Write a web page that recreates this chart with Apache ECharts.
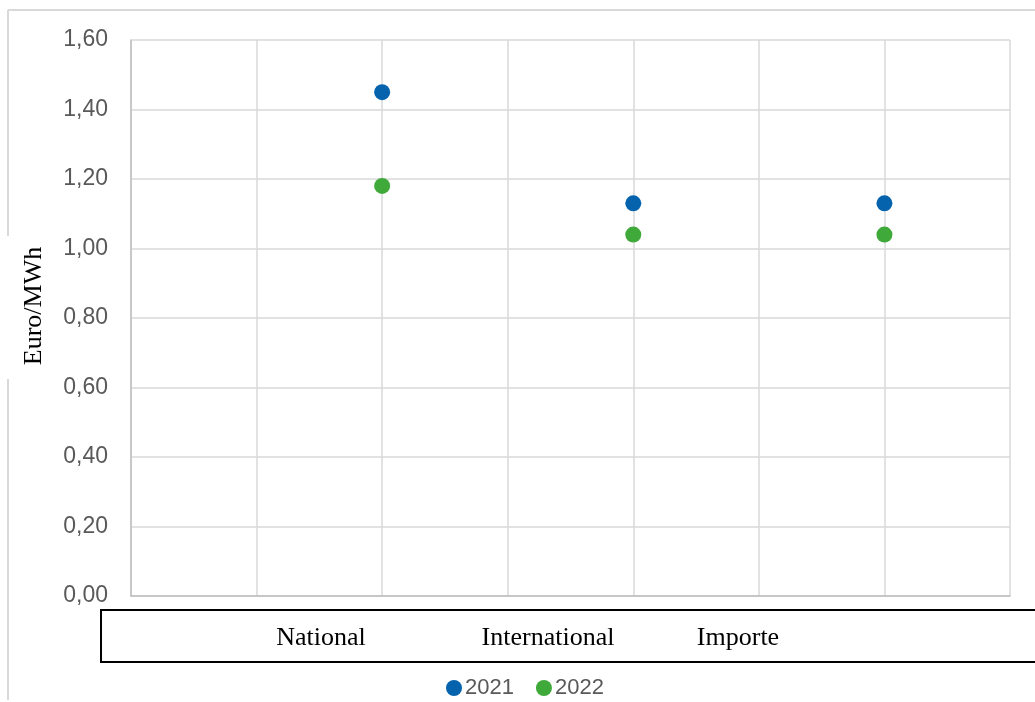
<!DOCTYPE html>
<html><head><meta charset="utf-8">
<script src="https://cdn.jsdelivr.net/npm/echarts@6/dist/echarts.min.js"></script>
<style>html,body{margin:0;padding:0;background:#fff}#c{width:1035px;height:702px}</style>
</head><body><div id="c"></div>
<script>
// slots on the x axis (points sit on slots 2, 4, 6)
const slots = ['', '', 'National', '', 'International', '', 'Importe', ''];
const categories = ['National', 'International', 'Importe'];
const values2021 = [1.45, 1.13, 1.13];
const values2022 = [1.18, 1.04, 1.04];
const boxLabelX = [321, 548, 738];

function toPairs(vals) { return categories.map((c, i) => [c, vals[i]]); }

const chart = echarts.init(document.getElementById('c'));
chart.setOption({
  animation: false,
  grid: { left: 131, right: 25, top: 40, bottom: 106 },
  xAxis: {
    type: 'category', data: slots, boundaryGap: false,
    axisLine: { show: true, lineStyle: { color: '#bfbfbf', width: 1.5 } },
    axisTick: { show: false }, axisLabel: { show: false },
    splitLine: { show: true, lineStyle: { color: '#d9d9d9', width: 1.5 } }
  },
  yAxis: {
    type: 'value', min: 0, max: 1.6, interval: 0.2,
    axisLine: { show: true, lineStyle: { color: '#bfbfbf', width: 1.5 } },
    axisTick: { show: false },
    axisLabel: { fontFamily: 'Liberation Sans', fontSize: 23, color: '#595959', margin: 23,
      padding: [4, 0, 0, 0],
      formatter: v => v.toFixed(2).replace('.', ',') },
    splitLine: { lineStyle: { color: '#d9d9d9', width: 1.5 } }
  },
  legend: {
    left: 441, top: 672, itemGap: 22, itemWidth: 16, itemHeight: 16,
    icon: 'circle',
    textStyle: { fontFamily: 'Liberation Sans', fontSize: 22, color: '#595959', padding: [0, 0, 0, -2] },
    data: ['2021', '2022']
  },
  graphic: [
    { type: 'line', shape: { x1: 8, y1: 10, x2: 1035, y2: 10 }, style: { stroke: '#d9d9d9', lineWidth: 2 } },
    { type: 'line', shape: { x1: 8, y1: 10, x2: 8, y2: 700 }, style: { stroke: '#d9d9d9', lineWidth: 2 } },
    { type: 'rect', shape: { x: 2, y: 236, width: 48, height: 143 }, style: { fill: '#fff' } },
    { type: 'text', x: 34, y: 306, rotation: Math.PI / 2,
      style: { text: 'Euro/MWh', font: '26px "Liberation Serif"', fill: '#000', align: 'center', verticalAlign: 'middle' } },
    { type: 'rect', shape: { x: 101, y: 610, width: 940, height: 52 }, style: { fill: '#fff', stroke: '#000', lineWidth: 2 } }
  ].concat(categories.map((c, i) => ({
    type: 'text', x: boxLabelX[i], y: 638,
    style: { text: c, font: '26px "Liberation Serif"', fill: '#000', align: 'center', verticalAlign: 'middle' }
  }))),
  series: [
    { name: '2021', type: 'scatter', symbolSize: 16, itemStyle: { color: '#0563ad', opacity: 1 }, data: toPairs(values2021) },
    { name: '2022', type: 'scatter', symbolSize: 16, itemStyle: { color: '#3fa93a', opacity: 1 }, data: toPairs(values2022) }
  ]
});
</script></body></html>
